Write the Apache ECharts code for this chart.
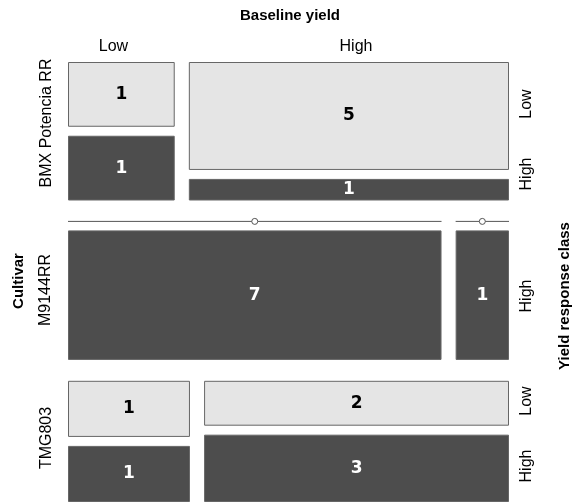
<!DOCTYPE html>
<html>
<head>
<meta charset="utf-8">
<script src="https://cdn.jsdelivr.net/npm/echarts@6/dist/echarts.min.js"></script>
<style>html,body{margin:0;padding:0;background:#fff;overflow:hidden}#c{width:574px;height:502px}</style>
</head>
<body>
<div id="c"></div>
<script>
// ---- data ----
const cultivars = ['BMX Potencia RR', 'M9144RR', 'TMG803'];
const baselineLevels = ['Low', 'High'];
const responseLevels = ['Low', 'High'];
// counts per cultivar, split by baseline yield and yield response class
const lowBaseLowResp   = [1, 0, 1];
const lowBaseHighResp  = [1, 7, 1];
const highBaseLowResp  = [5, 0, 2];
const highBaseHighResp = [1, 1, 3];

// ---- layout (fractions of plot area) ----
const GAP_ROW = 0.0475, GAP_COL = 0.032, GAP_RESP = 0.0204;
const LIGHT = '#e5e5e5', DARK = '#4d4d4d', BORDER = '#666666';

const table = cultivars.map((c, i) => [
  [lowBaseLowResp[i], lowBaseHighResp[i]],
  [highBaseLowResp[i], highBaseHighResp[i]]
]);
const grand = table.reduce((s, r) => s + r[0][0] + r[0][1] + r[1][0] + r[1][1], 0);

const cells = [];
let y = 0;
table.forEach((rowT, ci) => {
  const rowTot = rowT[0][0] + rowT[0][1] + rowT[1][0] + rowT[1][1];
  const rh = (1 - GAP_ROW * (cultivars.length - 1)) * rowTot / grand;
  let x = 0;
  rowT.forEach((col, bi) => {
    const colTot = col[0] + col[1];
    const cw = (1 - GAP_COL) * colTot / rowTot;
    let yy = y;
    col.forEach((n, ri) => {
      const h = (rh - GAP_RESP) * n / colTot;
      cells.push([x, yy, x + cw, yy + h, n, ri]);
      yy += h + GAP_RESP;
    });
    x += cw + GAP_COL;
  });
  y += rh + GAP_ROW;
});

function renderItem(params, api) {
  const x0 = api.value(0), y0 = api.value(1), x1 = api.value(2), y1 = api.value(3);
  const n = api.value(4), ri = api.value(5);
  const p0 = api.coord([x0, y0]), p1 = api.coord([x1, y1]);
  if (n === 0) {
    const cx = (p0[0] + p1[0]) / 2;
    return {
      type: 'group',
      children: [
        { type: 'line', shape: { x1: p0[0], y1: p0[1], x2: p1[0], y2: p0[1] },
          style: { stroke: '#555', lineWidth: 1 } },
        { type: 'circle', shape: { cx: cx, cy: p0[1], r: 3 },
          style: { fill: '#fff', stroke: '#555', lineWidth: 1 } }
      ]
    };
  }
  const dark = ri === 1;
  return {
    type: 'group',
    children: [
      { type: 'rect',
        shape: { x: p0[0] + 0.5, y: p0[1] + 0.5, width: p1[0] - p0[0] - 1, height: p1[1] - p0[1] - 1 },
        style: { fill: dark ? DARK : LIGHT, stroke: BORDER, lineWidth: 1 } },
      { type: 'text',
        x: (p0[0] + p1[0]) / 2, y: (p0[1] + p1[1]) / 2,
        style: { text: String(n), fill: dark ? '#fff' : '#000', align: 'center', verticalAlign: 'middle',
                 font: 'bold 17px "DejaVu Sans"' } }
    ]
  };
}

const LBL = '16px "Liberation Sans"';
const TTL = 'bold 15px "Liberation Sans"';
function txt(s, x, y, font, rot) {
  return { type: 'text', x: x, y: y, rotation: rot ? Math.PI / 2 : 0,
    style: { text: s, font: font, fill: '#000', align: 'center', verticalAlign: 'middle' } };
}

const chart = echarts.init(document.getElementById('c'), null, { renderer: 'canvas' });
chart.setOption({
  animation: false,
  backgroundColor: '#fff',
  grid: { left: 68, top: 62, width: 441, height: 442 },
  xAxis: { type: 'value', min: 0, max: 1, show: false },
  yAxis: { type: 'value', min: 0, max: 1, inverse: true, show: false },
  series: [{ type: 'custom', renderItem: renderItem, data: cells, clip: false }],
  graphic: [
    txt('Baseline yield', 290, 16, TTL),
    txt(baselineLevels[0], 113.5, 47, LBL),
    txt(baselineLevels[1], 356, 47, LBL),
    txt('Cultivar', 19, 281, TTL, true),
    txt(cultivars[0], 47, 123, LBL, true),
    txt(cultivars[1], 46, 290, LBL, true),
    txt(cultivars[2], 47, 438, LBL, true),
    txt(responseLevels[0], 527, 104, LBL, true),
    txt(responseLevels[1], 527, 174, LBL, true),
    txt(responseLevels[1], 527, 296, LBL, true),
    txt(responseLevels[0], 527, 401, LBL, true),
    txt(responseLevels[1], 527, 466, LBL, true),
    txt('Yield response class', 565, 296, TTL, true)
  ]
});
</script>
</body>
</html>
